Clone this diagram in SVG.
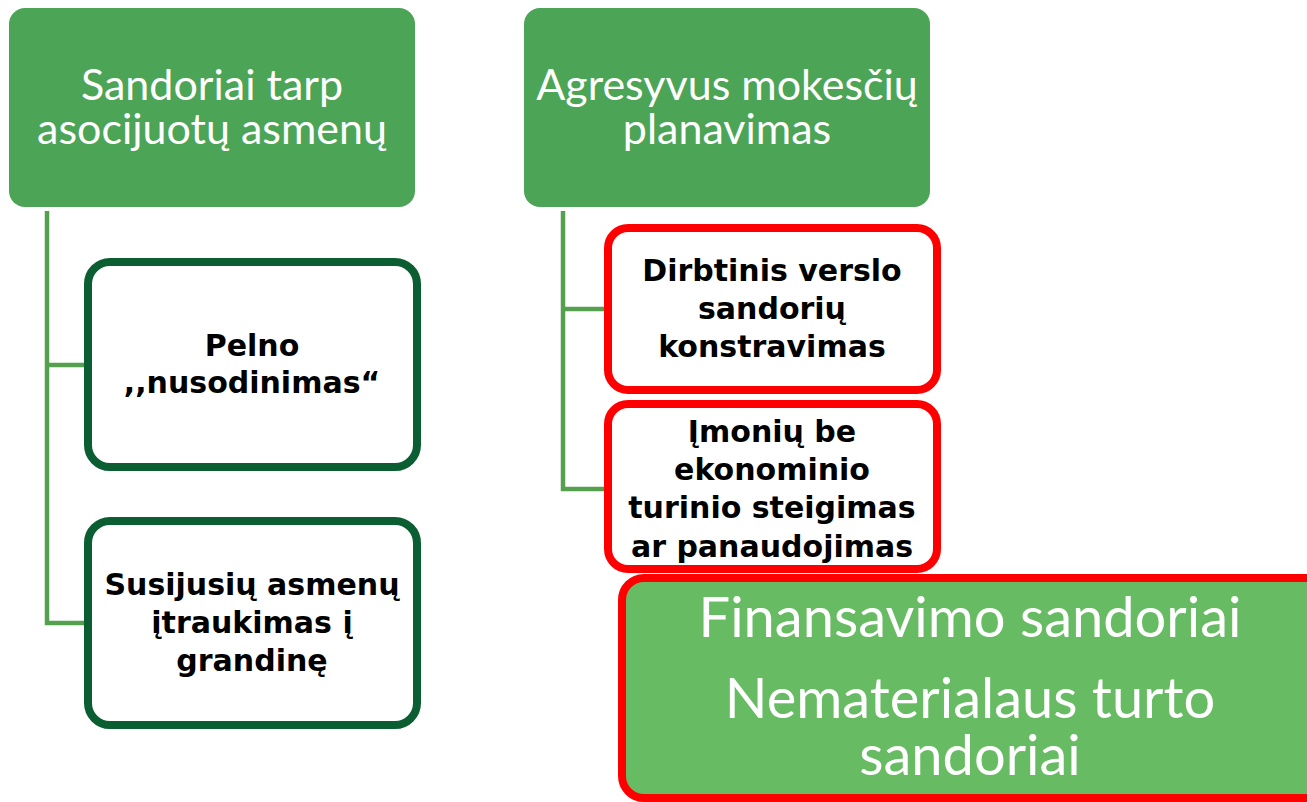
<svg xmlns="http://www.w3.org/2000/svg" width="1307" height="802" viewBox="0 0 1307 802">
<style>
.head{fill:#4ca456}
.title{font-family:Lato,"DejaVu Sans",sans-serif;font-size:43px;fill:#ffffff;text-anchor:middle}
.gbox{fill:#ffffff;stroke:#0b5e31;stroke-width:8}
.rbox{fill:#ffffff;stroke:#ff0000;stroke-width:8}
.body{font-family:"DejaVu Sans",sans-serif;font-weight:bold;font-size:30px;fill:#000000;text-anchor:middle}
.big{font-family:Lato,"DejaVu Sans",sans-serif;font-size:56px;fill:#ffffff;text-anchor:middle}
.conn{fill:none;stroke:#55a04f;stroke-width:4.5}
</style>
<rect width="1307" height="802" fill="#ffffff"/>
<g id="connectors">
<path class="conn" d="M47,211 V623 H88 M47,365 H88"/>
<path class="conn" d="M563,211 V489 H608 M563,309 H608"/>
</g>
<g id="node-sandoriai">
<rect class="head" x="9" y="8" width="406" height="199" rx="16"/>
<text class="title" x="212" y="100">Sandoriai tarp</text>
<text class="title" x="212" y="144">asocijuotų asmenų</text>
</g>
<g id="node-agresyvus">
<rect class="head" x="524" y="8" width="406" height="199" rx="16"/>
<text class="title" x="727" y="100">Agresyvus mokesčių</text>
<text class="title" x="727" y="144">planavimas</text>
</g>
<g id="node-pelno">
<rect class="gbox" x="88" y="262" width="329" height="205" rx="22"/>
<text class="body" x="252" y="356">Pelno</text>
<text class="body" x="252" y="393">,,nusodinimas“</text>
</g>
<g id="node-susijusiu">
<rect class="gbox" x="88" y="521" width="329" height="204" rx="22"/>
<text class="body" x="252" y="595">Susijusių asmenų</text>
<text class="body" x="252" y="633">įtraukimas į</text>
<text class="body" x="252" y="671">grandinę</text>
</g>
<g id="node-dirbtinis">
<rect class="rbox" x="608" y="228" width="329" height="162" rx="20"/>
<text class="body" x="772" y="281">Dirbtinis verslo</text>
<text class="body" x="772" y="319">sandorių</text>
<text class="body" x="772" y="357">konstravimas</text>
</g>
<g id="node-imoniu">
<rect class="rbox" x="608" y="404" width="329" height="165" rx="20"/>
<text class="body" x="772" y="442">Įmonių be</text>
<text class="body" x="772" y="480">ekonominio</text>
<text class="body" x="772" y="518">turinio steigimas</text>
<text class="body" x="772" y="557">ar panaudojimas</text>
</g>
<g id="node-finansavimo">
<rect x="622" y="578" width="710" height="220" rx="22" fill="#66bb63" stroke="#ff0000" stroke-width="8"/>
<text class="big" x="970" y="637">Finansavimo sandoriai</text>
<text class="big" x="970" y="718">Nematerialaus turto</text>
<text class="big" x="970" y="775">sandoriai</text>
</g>
</svg>
